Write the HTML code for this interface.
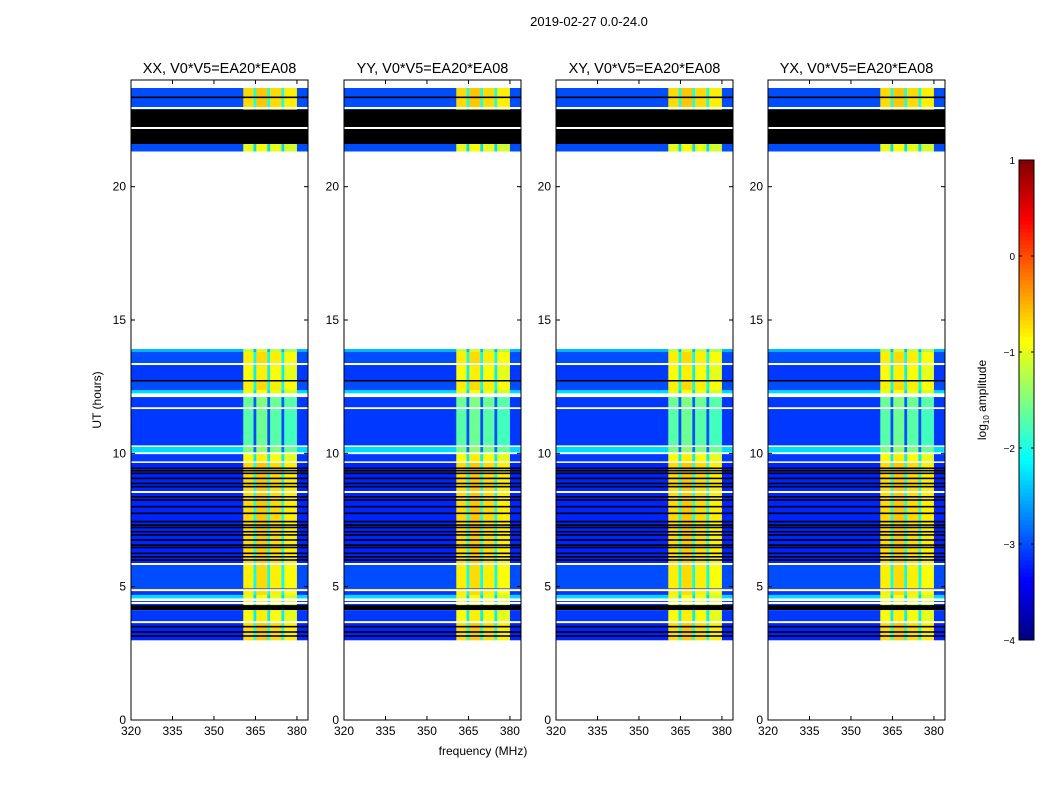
<!DOCTYPE html>
<html><head><meta charset="utf-8">
<style>
body{margin:0;background:#fff;}
svg text{font-family:"Liberation Sans",sans-serif;}
</style></head>
<body>
<svg id="fig" width="1050" height="800" viewBox="0 0 1050 800" xmlns="http://www.w3.org/2000/svg">
<text x="589" y="26" font-size="13" text-anchor="middle">2019-02-27 0.0-24.0</text>
<text x="483" y="755" font-size="12" text-anchor="middle">frequency (MHz)</text>
<text transform="translate(101,400) rotate(-90)" font-size="12" text-anchor="middle">UT (hours)</text>
<g id="panels"></g>
<g id="cbar"></g>
<text transform="translate(986,400) rotate(-90)" font-size="12" text-anchor="middle">log<tspan font-size="8" dy="3">10</tspan><tspan dy="-3"> amplitude</tspan></text>
</svg>
<script>
// ---- data ----
const panelTitles = ["XX, V0*V5=EA20*EA08","YY, V0*V5=EA20*EA08","XY, V0*V5=EA20*EA08","YX, V0*V5=EA20*EA08"];
const xTicks = [320,335,350,365,380];
const yTicks = [0,5,10,15,20];
const cbarTicks = [1,0,-1,-2,-3,-4];
// time rows: [startHour, endHour, kind(d=data,k=flagged), backgroundLog, bandLog]
const rowStart = [21.33,21.6,23.0,13.8,13.39,12.75,12.37,12.26,11.74,10.31,10.05,9.71,5.81,4.95,4.69,4.57,4.31,4.12,3.67,3.0,13.31,12.71,21.6,22.9];
const rowEnd   = [21.6,22.9,23.7,13.91,13.8,13.31,12.71,12.37,12.11,11.66,10.24,9.97,9.64,5.81,4.87,4.69,4.5,4.31,4.12,3.64,13.39,12.75,22.9,23.0];
const rowKind  = ["d","k","d","d","d","d","d","d","d","d","d","d","d","d","d","d","d","k","d","d","d","k","k","d"];
const rowBg    = [-3.0,-9,-3.0,-2.5,-3.0,-3.1,-3.0,-2.3,-3.1,-3.1,-2.3,-3.1,-3.2,-3.0,-3.1,-2.3,-3.1,-9,-3.1,-3.2,-3.0,-9,-9,-3.0];
const rowBand  = [-1.0,-9,-0.7,-1.2,-0.8,-0.9,-0.8,-1.0,-1.6,-1.7,-1.5,-0.9,-0.7,-0.8,-0.8,-1.0,-0.9,-9,-0.9,-0.7,-0.8,-9,-9,-0.8];
// flagged (black) single-integration lines, hours
const flagLines = [9.44,9.35,9.25,9.06,8.87,8.75,8.37,8.25,8.0,7.75,7.44,7.31,7.22,7.06,6.94,6.75,6.56,6.47,6.25,6.12,6.0,4.9,3.5,3.3,3.15,23.35];
// white gaps within data (hours)
const gapLines = [13.35,8.55,5.85,4.87,4.5,4.39,3.67,22.95,22.2];
// frequency segments
const segF0 = [320,360.6,364.3,365.3,369.3,370.3,374.4,375.4,380];
const segF1 = [360.6,364.3,365.3,369.3,370.3,374.4,375.4,380,384];
const segType=["bg","band","band","band","band","band","band","band","bg"];
const segOff = [0,0,-1.3,0.1,-1.3,0,-1.3,-0.1,0];
// ---- layout ----
const panelLeft=[131,344,556,768], pW=177, pTop=80, pBot=720;
const fMin=320,fMax=384,hMin=0,hMax=24;
const NS="http://www.w3.org/2000/svg";
function jet(v){
  let t=Math.max(0,Math.min(1,(v+4)/5));
  const c=x=>Math.round(255*Math.max(0,Math.min(1,1.5-Math.abs(4*t-x))));
  return `rgb(${c(3)},${c(2)},${c(1)})`;
}
function el(tag,attrs,parent){const e=document.createElementNS(NS,tag);for(const k in attrs)e.setAttribute(k,attrs[k]);parent.appendChild(e);return e;}
const panels=document.getElementById('panels');
panelLeft.forEach((L,p)=>{
  const xs=f=>L+(f-fMin)/(fMax-fMin)*pW;
  const ys=h=>pBot-(h-hMin)/(hMax-hMin)*(pBot-pTop);
  const g=el('g',{},panels);
  
  
  for(let r=0;r<rowStart.length;r++){
    const y0=ys(rowEnd[r]),y1=ys(rowStart[r]);
    if(rowKind[r]==='k'){
      const rc=el('rect',{x:L,y:y0,width:pW,height:Math.max(1.5,y1-y0),fill:'#000'},g);
      
      
      continue;
    }
    for(let s=0;s<segF0.length;s++){
      const v=segType[s]==='bg'?rowBg[r]:rowBand[r]+segOff[s];
      const rc=el('rect',{x:xs(segF0[s]),y:y0,width:xs(segF1[s])-xs(segF0[s])+0.3,height:y1-y0+0.3,fill:jet(v)},g);
      
      
    }
  }
  flagLines.forEach(h=>{
    const rc=el('rect',{x:L,y:ys(h)-0.8,width:pW,height:1.6,fill:'#000'},g);
    
    
  });
  gapLines.forEach(h=>{
    const rc=el('rect',{x:L,y:ys(h)-1,width:pW,height:2,fill:'#fff'},g);
    
    
  });
  const fr=el('rect',{x:L,y:pTop,width:pW,height:pBot-pTop,fill:'none',stroke:'#000','stroke-width':1},g);
  
  
  const t=el('text',{x:L+pW/2,y:73,'font-size':14.5,'text-anchor':'middle'},g);
  t.textContent=panelTitles[p];
  
  
  xTicks.forEach(f=>{
    const x=xs(f);
    el('line',{x1:x,x2:x,y1:pBot,y2:pBot-4,stroke:'#000'},g);
    el('line',{x1:x,x2:x,y1:pTop,y2:pTop+4,stroke:'#000'},g);
    const tl=el('text',{x:x,y:pBot+15,'font-size':12,'text-anchor':'middle'},g);
    tl.textContent=f;
    
    
  });
  yTicks.forEach(h=>{
    const y=ys(h);
    el('line',{x1:L,x2:L+4,y1:y,y2:y,stroke:'#000'},g);
    el('line',{x1:L+pW,x2:L+pW-4,y1:y,y2:y,stroke:'#000'},g);
    const tl=el('text',{x:L-5,y:y+4,'font-size':12,'text-anchor':'end'},g);
    tl.textContent=h;
    
    
  });
});
// colorbar
const cb=document.getElementById('cbar');
const cbX=1019,cbW=15,cbTop=160,cbBot=640;
const cys=v=>cbBot-(v+4)/5*(cbBot-cbTop);
for(let i=0;i<120;i++){
  const v0=-4+5*i/120,v1=-4+5*(i+1)/120;
  const rc=el('rect',{x:cbX,y:cys(v1),width:cbW,height:cys(v0)-cys(v1)+0.5,fill:jet((v0+v1)/2)},cb);
  
  
}
el('rect',{x:cbX,y:cbTop,width:cbW,height:cbBot-cbTop,fill:'none',stroke:'#000'},cb);
cbarTicks.forEach(v=>{
  const y=cys(v);
  el('line',{x1:cbX,x2:cbX+3,y1:y,y2:y,stroke:'#000'},cb);
  el('line',{x1:cbX+cbW,x2:cbX+cbW-3,y1:y,y2:y,stroke:'#000'},cb);
  const tl=el('text',{x:cbX-4,y:y+4,'font-size':10,'text-anchor':'end'},cb);
  tl.textContent=v<0?'\u2212'+(-v):v;
  
  
});
</script>
</body></html>
